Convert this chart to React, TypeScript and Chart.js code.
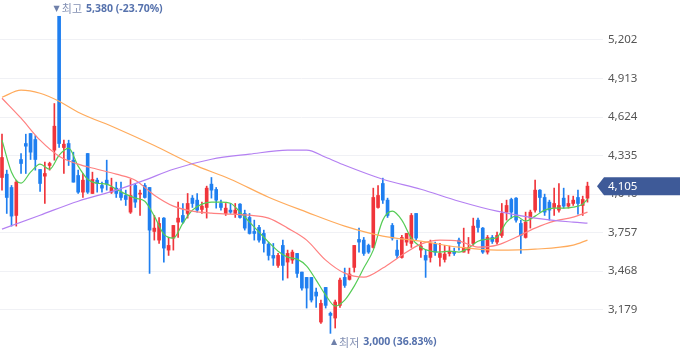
import React, { useEffect, useRef } from "react";
import { Chart, registerables } from "chart.js";
Chart.register(...registerables);

// OHLC per candle (index 0..123)
const opens = [4170,4195,4095,3885,4305,4425,4500,4455,4230,4180,4260,4375,5380,4395,4425,4300,4185,4060,4350,4050,4150,4110,4150,4060,4090,4060,4035,3910,4110,4045,4110,4095,3765,3700,3865,3625,3715,3835,3885,3900,4015,4000,3930,3945,4120,4080,3975,3900,3925,3900,3970,3900,3870,3765,3795,3750,3670,3585,3510,3660,3535,3550,3600,3460,3420,3420,3310,3085,3345,3150,3115,3210,3420,3405,3495,3705,3700,3660,3645,3945,4125,4000,3810,3625,3570,3685,3675,3900,3625,3585,3570,3670,3570,3555,3600,3615,3700,3610,3625,3675,3850,3790,3610,3720,3685,3735,3910,4005,4015,3825,3720,3865,3925,4075,4020,3985,3945,3925,4015,3955,3975,4020,3960,4015];
const highs = [4495,4225,4110,4150,4350,4495,4500,4485,4230,4285,4285,4725,5380,4450,4450,4360,4225,4200,4350,4210,4165,4135,4300,4165,4135,4135,4075,4155,4125,4075,4125,4095,3885,3870,3870,3720,3810,3985,3975,4050,4035,4050,3985,4105,4170,4095,4000,3975,3975,3975,3975,3925,3900,3850,3810,3775,3685,3675,3600,3700,3625,3625,3600,3460,3420,3420,3340,3250,3345,3160,3250,3415,3490,3490,3660,3790,3720,3670,4090,4110,4165,4015,3825,3700,3735,3750,3900,3900,3685,3625,3700,3685,3675,3660,3655,3640,3715,3790,3720,3865,3865,3795,3735,3735,3760,3975,4000,4015,4020,3850,3910,3925,4150,4080,4045,4000,4090,4125,4090,4035,4030,4075,4030,4135];
const lows = [4075,3900,3805,3805,4200,4200,4305,4225,4065,3975,4225,4300,4395,4200,4260,4135,4050,4020,4050,4050,4060,4060,4075,4050,4020,4000,3960,3900,3945,3885,4015,3450,3700,3675,3535,3585,3625,3720,3825,3865,3945,3910,3900,3865,4015,3940,3925,3885,3900,3870,3865,3775,3745,3700,3685,3610,3550,3510,3495,3400,3415,3525,3420,3325,3190,3235,3195,3075,3190,3000,3040,3195,3345,3400,3460,3610,3585,3600,3640,3940,3975,3870,3700,3565,3565,3660,3645,3700,3570,3420,3535,3585,3505,3535,3580,3585,3625,3610,3600,3660,3760,3600,3595,3675,3670,3720,3850,3865,3835,3600,3715,3790,3910,3910,3885,3850,3885,3910,3940,3940,3960,3895,3885,3985];
const closes = [4320,4020,3880,4135,4275,4405,4360,4305,4125,4200,4275,4555,4425,4420,4305,4135,4060,4150,4060,4155,4125,4090,4120,4095,4050,4020,4005,4035,3985,4050,4020,3775,3790,3825,3640,3660,3810,3865,3835,3975,3975,3925,3955,4090,4075,4000,3945,3940,3910,3925,3870,3790,3750,3750,3700,3675,3585,3565,3585,3510,3600,3610,3450,3340,3340,3250,3280,3225,3210,3135,3235,3400,3360,3445,3660,3685,3600,3610,4020,4035,4000,3885,3715,3585,3720,3750,3885,3715,3655,3550,3675,3610,3600,3595,3615,3600,3675,3645,3645,3805,3795,3610,3720,3690,3735,3900,3960,3910,3850,3735,3835,3910,4075,4020,3910,3925,3975,3960,3955,3975,4000,3975,4005,4105];

// Moving averages (candle index, price)
const ma5Idx = [0,2,4,6,8,10,12,14,16,18,20,22,24,26,28,30,32,34,36,38,40,42,44,46,48,50,52,54,56,58,60,62,64,66,68,70,72,74,76,78,80,82,84,86,88,90,92,94,96,98,100,102,104,106,108,110,112,114,116,118,120,122,123];
const ma5 = [4450,4210,4127,4210,4270,4232,4337,4390,4255,4157,4127,4120,4082,4045,4015,3992,3880,3745,3715,3827,3925,3970,3985,3985,3977,3910,3835,3760,3685,3617,3572,3557,3505,3400,3287,3205,3250,3355,3490,3625,3850,3917,3850,3715,3647,3617,3610,3617,3610,3640,3692,3707,3722,3835,3880,3842,3880,3925,3940,3940,3947,3970,4007];
const ma20Idx = [0,4,8,12,16,20,24,28,32,36,40,44,48,52,56,60,64,68,72,76,80,84,88,92,96,100,104,108,112,116,120,123];
const ma20 = [4765,4615,4450,4330,4270,4232,4195,4150,4037,3955,3917,3902,3895,3887,3865,3790,3700,3550,3452,3422,3490,3587,3670,3700,3692,3647,3662,3722,3790,3842,3872,3910];
const ma60Idx = [0,4,8,12,16,24,32,40,48,56,64,72,80,88,96,104,112,120,123];
const ma60 = [4772,4825,4802,4742,4660,4540,4410,4270,4157,4022,3910,3805,3730,3692,3647,3625,3632,3662,3700];
const ma120Idx = [0,8,16,24,30,36,44,52,60,64,68,72,80,88,96,104,112,120,123];
const ma120 = [3782,3887,3992,4075,4150,4232,4307,4345,4375,4375,4322,4262,4157,4082,3992,3917,3865,3835,3827];

const yTicks = [3179, 3468, 3757, 4046, 4335, 4624, 4913, 5202];

const RED = "#f0353b";
const BLUE = "#1f7ff0";
const FONT = '"Noto Sans", "Noto Sans CJK KR", sans-serif';

export default function App() {
  const ref = useRef<HTMLCanvasElement>(null);
  useEffect(() => {
    const canvas = ref.current!;
    const n = closes.length;
    const colors = closes.map((c, i) => (c >= opens[i] ? RED : BLUE));
    const wicks = highs.map((h, i) => ({ x: i, y: [lows[i], h] }));
    const bodies = opens.map((o, i) => ({ x: i, y: [Math.min(o, closes[i]), Math.max(o, closes[i])] }));
    const pts = (idx: number[], vals: number[]) => idx.map((x, k) => ({ x, y: vals[k] }));
    const hiVal = Math.max(...highs);
    const loVal = Math.min(...lows);
    const hiI = highs.indexOf(hiVal);
    const loI = lows.indexOf(loVal);
    const last = closes[n - 1];
    const fmt = (v: number) => v.toLocaleString("en-US");
    const pct = (v: number) => {
      const p = ((last - v) / v) * 100;
      return (p > 0 ? "" : "") + p.toFixed(2) + "%";
    };

    const drawTag = (ctx: CanvasRenderingContext2D, x0: number, yc: number, tri: string, word: string, val: string) => {
      ctx.textBaseline = "middle";
      ctx.textAlign = "left";
      ctx.fillStyle = "#6f80aa";
      ctx.font = '8px "DejaVu Sans", sans-serif';
      ctx.fillText(tri, x0, yc);
      let x = x0 + ctx.measureText(tri).width + 2;
      ctx.font = '11px "Noto Sans CJK KR", sans-serif';
      ctx.fillStyle = "#8390b3";
      ctx.fillText(word, x, yc);
      x += ctx.measureText(word).width + 4;
      ctx.font = 'bold 10.5px "Noto Sans", sans-serif';
      ctx.fillStyle = "#5672ad";
      ctx.fillText(val, x, yc);
    };

    const marks = {
      id: "marks",
      afterDraw(chart: any) {
        const { ctx, scales, chartArea } = chart;
        const xs = scales.x, ys = scales.y;
        ctx.save();
        const hx = xs.getPixelForValue(hiI);
        const hy = ys.getPixelForValue(hiVal);
        drawTag(ctx, hx - 5.5, hy - 7, "▼", "최고", `${fmt(hiVal)} (${pct(hiVal)})`);
        const lx = xs.getPixelForValue(loI);
        const ly = ys.getPixelForValue(loVal);
        drawTag(ctx, lx + 0.5, ly + 9, "▲", "최저", `${fmt(loVal)} (${pct(loVal)})`);
        // current price tag
        const yc = ys.getPixelForValue(last);
        const tip = chartArea.right - 6;
        ctx.fillStyle = "#3e5a98";
        ctx.beginPath();
        ctx.moveTo(tip, yc);
        ctx.lineTo(tip + 7, yc - 9);
        ctx.lineTo(chart.width, yc - 9);
        ctx.lineTo(chart.width, yc + 9);
        ctx.lineTo(tip + 7, yc + 9);
        ctx.closePath();
        ctx.fill();
        ctx.fillStyle = "#ffffff";
        ctx.font = '11.5px "Noto Sans", sans-serif';
        ctx.textBaseline = "middle";
        ctx.textAlign = "left";
        ctx.fillText(fmt(last), chartArea.right + 5, yc + 0.5);
        ctx.restore();
      },
    };

    const lineDs = (data: any, color: string, w = 1.2) => ({
      type: "line" as const,
      data,
      borderColor: color,
      borderWidth: w,
      pointRadius: 0,
      cubicInterpolationMode: "monotone" as const,
      order: 0,
    });

    const chart = new Chart(canvas, {
      type: "bar",
      data: {
        datasets: [
          lineDs(pts(ma120Idx, ma120), "#b480f2"),
          lineDs(pts(ma60Idx, ma60), "#ffab5c"),
          lineDs(pts(ma20Idx, ma20), "#ff8080"),
          lineDs(pts(ma5Idx, ma5), "#55cc55"),
          {
            type: "bar",
            data: bodies as any,
            backgroundColor: colors,
            barThickness: 3,
            grouped: false,
            minBarLength: 1,
            borderWidth: 0,
            order: 1,
          },
          {
            type: "bar",
            data: wicks as any,
            backgroundColor: colors,
            barThickness: 1,
            grouped: false,
            borderWidth: 0,
            order: 2,
          },
        ] as any,
      },
      options: {
        animation: false,
        responsive: false,
        maintainAspectRatio: false,
        layout: { padding: 0 },
        plugins: { legend: { display: false }, tooltip: { enabled: false } },
        scales: {
          x: { type: "linear", min: -0.42, max: 126.26, display: false, offset: false, grid: { offset: false } },
          y: {
            position: "right",
            min: 2815.1,
            max: 5502.2,
            beginAtZero: false,
            afterBuildTicks: (s: any) => {
              s.ticks = yTicks.map((v) => ({ value: v }));
            },
            afterFit: (s: any) => {
              s.width = 77;
              s.paddingTop = 0;
              s.paddingBottom = 0;
            },
            grid: { color: "#f0f1f5", drawTicks: false },
            border: { display: false },
            ticks: {
              padding: 5,
              color: "#555555",
              font: { family: FONT, size: 11.5 },
              callback: (v: any) => Number(v).toLocaleString("en-US"),
            },
          },
        },
      } as any,
      plugins: [marks],
    });
    return () => chart.destroy();
  }, []);
  return (
    <div style={{ position: "absolute", left: 0, top: 0, width: 680, height: 358, background: "#fff" }}>
      <canvas ref={ref} width={680} height={358} style={{ display: "block", width: 680, height: 358 }} />
    </div>
  );
}
